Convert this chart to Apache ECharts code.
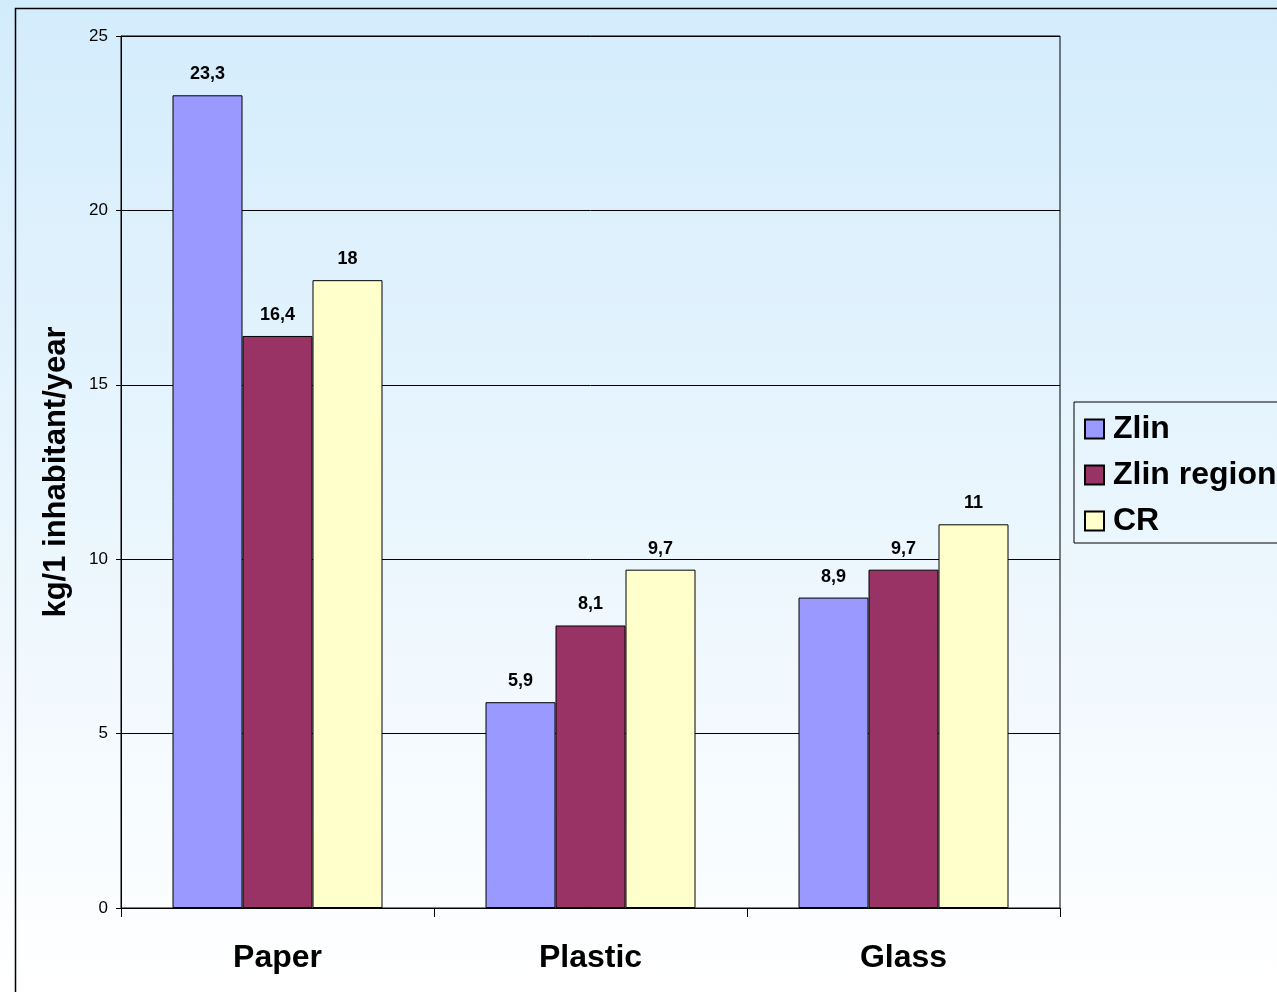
<!DOCTYPE html>
<html>
<head>
<meta charset="utf-8">
<script src="https://cdn.jsdelivr.net/npm/echarts@6/dist/echarts.min.js"></script>
<style>html,body{margin:0;padding:0;}#c{width:1277px;height:992px;}</style>
</head>
<body>
<div id="c"></div>
<script>
const categories = ['Paper', 'Plastic', 'Glass'];
const zlin = [23.3, 5.9, 8.9];
const zlinRegion = [16.4, 8.1, 9.7];
const cr = [18, 9.7, 11];
const seriesNames = ['Zlin', 'Zlin region', 'CR'];
const seriesColors = ['#9999ff', '#993366', '#ffffcc'];
const yTicks = {min: 0, max: 25, interval: 5};

const chart = echarts.init(document.getElementById('c'));
const font = 'Arial, "Liberation Sans", sans-serif';
function mk(name, data, color) {
  return {
    name: name, type: 'bar', data: data, barWidth: 70, barGap: '0%',
    itemStyle: {color: color, borderColor: '#000', borderWidth: 1},
    label: {show: true, position: 'top', distance: 12, fontFamily: font, fontWeight: 'bold', fontSize: 18, color: '#000',
      formatter: p => String(p.value).replace('.', ',')}
  };
}
chart.setOption({
  backgroundColor: {type: 'linear', x: 0, y: 0, x2: 0, y2: 1, colorStops: [{offset: 0, color: '#d3ecfc'}, {offset: 1, color: '#ffffff'}]},
  animation: false,
  graphic: [{type: 'rect', shape: {x: 15.5, y: 8.5, width: 1300, height: 1000}, style: {fill: 'none', stroke: '#000', lineWidth: 1.5}, silent: true}],
  grid: {left: 121, right: 217, top: 36, bottom: 84, show: true, borderColor: '#000', borderWidth: 1, backgroundColor: 'transparent'},
  legend: {
    orient: 'vertical', left: 1074, top: 402, padding: [11, 40, 6, 10], itemGap: 14,
    itemWidth: 19, itemHeight: 19, borderColor: '#000', borderWidth: 1, icon: 'rect',
    textStyle: {fontFamily: font, fontWeight: 'bold', fontSize: 32, color: '#000', padding: [0, 0, 0, 4]},
    data: seriesNames
  },
  xAxis: {
    type: 'category', data: categories,
    axisLine: {lineStyle: {color: '#000', width: 1}},
    axisTick: {show: true, length: 9, lineStyle: {color: '#000'}},
    axisLabel: {fontFamily: font, fontWeight: 'bold', fontSize: 32, color: '#000', margin: 34}
  },
  yAxis: {
    type: 'value', min: yTicks.min, max: yTicks.max, interval: yTicks.interval,
    name: 'kg/1 inhabitant/year', nameLocation: 'middle', nameGap: 49,
    nameTextStyle: {fontFamily: font, fontWeight: 'bold', fontSize: 31, color: '#000'},
    axisLine: {show: true, lineStyle: {color: '#000', width: 1}},
    axisTick: {show: true, length: 5, lineStyle: {color: '#000'}},
    axisLabel: {fontFamily: font, fontSize: 17, color: '#000', margin: 13},
    splitLine: {lineStyle: {color: '#000', width: 1}}
  },
  series: [mk(seriesNames[0], zlin, seriesColors[0]), mk(seriesNames[1], zlinRegion, seriesColors[1]), mk(seriesNames[2], cr, seriesColors[2])]
});
</script>
</body>
</html>
